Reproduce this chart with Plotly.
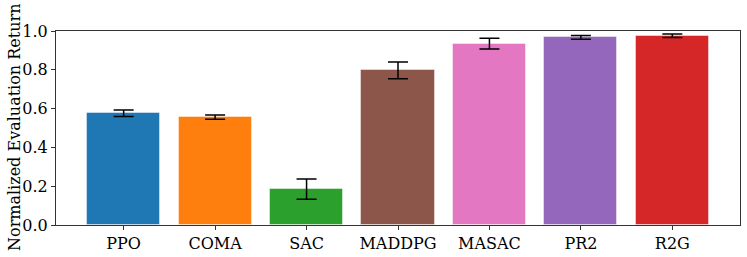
import plotly.graph_objects as go

methods = ["PPO", "COMA", "SAC", "MADDPG", "MASAC", "PR2", "R2G"]
returns = [0.576, 0.556, 0.185, 0.797, 0.935, 0.967, 0.976]
errors = [0.017, 0.011, 0.052, 0.043, 0.028, 0.010, 0.009]
colors = ["#1f77b4", "#ff7f0e", "#2ca02c", "#8c564b", "#e377c2", "#9467bd", "#d62728"]
y_ticks = [0.0, 0.2, 0.4, 0.6, 0.8, 1.0]

font_family = "DejaVu Serif"
fs = 16

fig = go.Figure(
    go.Bar(
        x=list(range(len(methods))),
        y=returns,
        width=0.8,
        marker=dict(color=colors, line=dict(color="rgba(255,255,255,0.45)", width=1)),
        error_y=dict(type="data", array=errors, visible=True, color="black", thickness=1.5, width=10),
    )
)

fig.update_layout(
    width=747,
    height=257,
    margin=dict(l=56, r=7, t=31, b=32, autoexpand=False),
    plot_bgcolor="white",
    paper_bgcolor="white",
    showlegend=False,
    font=dict(family=font_family, size=fs, color="black"),
    bargap=0,
)

fig.update_xaxes(
    range=[-0.74, 6.74],
    tickmode="array",
    tickvals=list(range(len(methods))),
    ticktext=methods,
    showline=True,
    linecolor="#333",
    linewidth=1,
    mirror=True,
    ticks="outside",
    ticklen=4,
    tickcolor="#333",
    showgrid=False,
    zeroline=False,
    automargin=False,
    tickfont=dict(size=fs),
)

fig.update_yaxes(
    range=[0, 1.0],
    tickmode="array",
    tickvals=y_ticks,
    ticktext=[f"{v:.1f}" for v in y_ticks],
    showline=True,
    linecolor="#333",
    linewidth=1,
    mirror=True,
    ticks="outside",
    ticklen=4,
    tickcolor="#333",
    showgrid=False,
    zeroline=False,
    automargin=False,
    tickfont=dict(size=fs),
)

fig.add_annotation(
    text="Normalized Evaluation Return",
    xref="paper", yref="paper",
    x=-0.0614, y=0.5,
    xanchor="center", yanchor="middle",
    textangle=-90,
    showarrow=False,
    font=dict(family=font_family, size=fs, color="black"),
)

fig.write_html(
    "out.html",
    config={"displayModeBar": False},
    post_script="document.body.style.margin='0';document.body.style.overflow='hidden';",
)
